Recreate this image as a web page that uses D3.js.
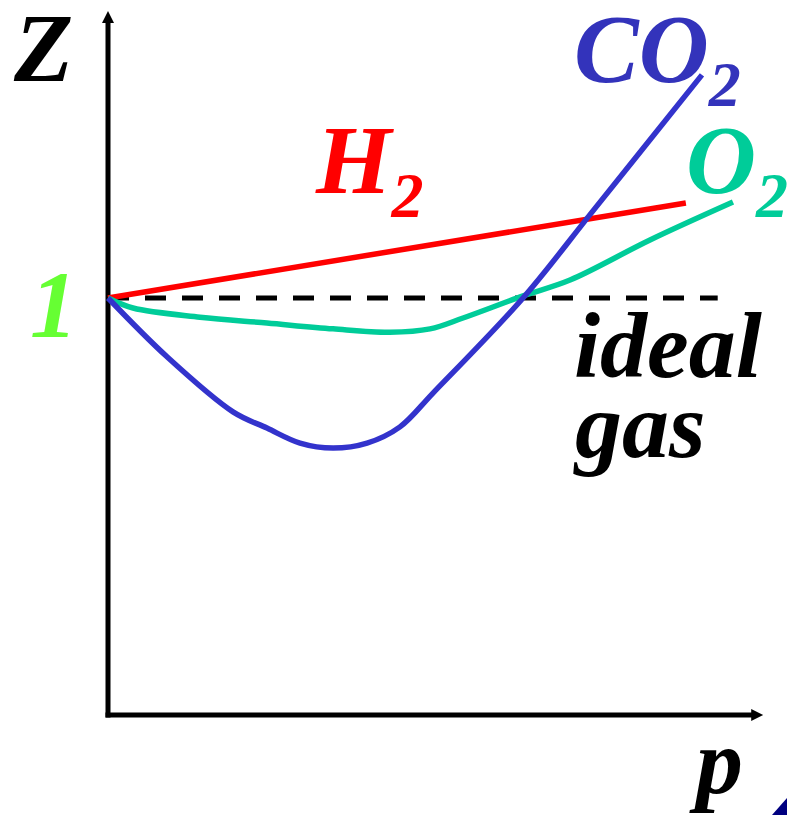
<!DOCTYPE html>
<html>
<head>
<meta charset="utf-8">
<script src="https://cdn.jsdelivr.net/npm/d3@7"></script>
<style>
    body { margin: 0; background: #fff; }
    #chart { width: 787px; height: 815px; }
</style>
</head>
<body>
<div id="chart"></div>
<script>

// compressibility factor Z vs pressure p (arbitrary p units)
const idealP = [0, 9.38];
const idealZ = [1, 1];

const h2P = [0, 8.89];
const h2Z = [1, 1.228];

const o2P = [0, 0.385, 1.415, 2.446, 3.462, 4.338, 4.954, 5.462, 6.385, 7.108, 8.338, 9.615];
const o2Z = [1, 0.976, 0.954, 0.940, 0.926, 0.918, 0.926, 0.952, 1.005, 1.043, 1.139, 1.230];

const co2P = [0, 0.908, 1.923, 2.446, 2.954, 3.462, 3.985, 4.492, 5.0, 6.385, 7.446, 9.138];
const co2Z = [1, 0.859, 0.727, 0.688, 0.652, 0.640, 0.652, 0.691, 0.772, 1.000, 1.206, 1.535];

// axis extents
const pMax = 10.08;
const zMax = 1.688;

const FONT = "Liberation Serif";


class ZChart {

    constructor(parentElement) {
        this.parentElement = parentElement;
        this.series = [
            {name: "H2", p: h2P, z: h2Z, color: "#ff0000"},
            {name: "O2", p: o2P, z: o2Z, color: "#00cc99"},
            {name: "CO2", p: co2P, z: co2Z, color: "#3333cc"}
        ];
        this.initVis();
    }

    initVis() {
        let vis = this;

        vis.width = 787;
        vis.height = 815;

        vis.svg = d3.select("#" + vis.parentElement).append("svg")
            .attr("width", vis.width)
            .attr("height", vis.height);

        vis.x = d3.scaleLinear().domain([0, 10]).range([108, 758]);
        vis.y = d3.scaleLinear().domain([0, 1]).range([715, 298]);

        vis.line = d3.line()
            .x(d => vis.x(d[0]))
            .y(d => vis.y(d[1]))
            .curve(d3.curveCatmullRom.alpha(0.5));

        // axes with arrow heads
        let x0 = vis.x(0), y0 = vis.y(0);
        let xEnd = vis.x(pMax), yEnd = vis.y(zMax);

        vis.svg.append("line")
            .attr("x1", x0).attr("y1", y0 + 2.5)
            .attr("x2", x0).attr("y2", yEnd + 10)
            .attr("stroke", "#000").attr("stroke-width", 5);
        vis.svg.append("path")
            .attr("d", `M${x0},${yEnd} L${x0 + 6},${yEnd + 12} L${x0 - 6},${yEnd + 12} Z`)
            .attr("fill", "#000");

        vis.svg.append("line")
            .attr("x1", x0 - 2.5).attr("y1", y0)
            .attr("x2", xEnd - 10).attr("y2", y0)
            .attr("stroke", "#000").attr("stroke-width", 5);
        vis.svg.append("path")
            .attr("d", `M${xEnd},${y0} L${xEnd - 12},${y0 - 6} L${xEnd - 12},${y0 + 6} Z`)
            .attr("fill", "#000");

        // ideal gas reference
        vis.svg.append("path")
            .datum(d3.zip(idealP, idealZ))
            .attr("d", d3.line().x(d => vis.x(d[0])).y(d => vis.y(d[1])))
            .attr("fill", "none")
            .attr("stroke", "#000")
            .attr("stroke-width", 5)
            .attr("stroke-dasharray", "21,16");

        // labels
        vis.label(14, 81, 97, "#000", "Z");
        vis.label(30, 337, 95, "#66ff33", "1");
        vis.label(696, 793, 94, "#000", "p");
        vis.label(574, 377, 94, "#000", "ideal");
        vis.label(575, 457, 94, "#000", "gas");

        vis.addFormula("H", "2", 316, 193, "#ff0000");
        vis.addFormula("O", "2", 686, 193, "#00cc99");
        vis.addFormula("CO", "2", 574, 82, "#3333bb");

        // slide corner decoration
        vis.svg.append("path")
            .attr("d", "M772,815 L787,798 L787,815 Z")
            .attr("fill", "#000080");

        this.wrangleData();
    }

    label(x, y, size, color, txt) {
        return this.svg.append("text")
            .attr("x", x).attr("y", y)
            .attr("font-family", FONT)
            .attr("font-weight", "bold")
            .attr("font-style", "italic")
            .attr("font-size", size)
            .attr("fill", color)
            .text(txt);
    }

    addFormula(main, sub, x, y, color) {
        let vis = this;
        let t = vis.label(x, y, 97, color, "");
        t.append("tspan").text(main);
        t.append("tspan").attr("font-size", 64).attr("dy", 24).text(sub);
    }

    wrangleData() {
        let vis = this;
        vis.displayData = vis.series.map(s => ({
            name: s.name,
            color: s.color,
            values: d3.zip(s.p, s.z)
        }));
        vis.updateVis();
    }

    updateVis() {
        let vis = this;

        vis.svg.selectAll(".gas-line")
            .data(vis.displayData)
            .enter()
            .append("path")
            .attr("class", "gas-line")
            .attr("d", d => vis.line(d.values))
            .attr("fill", "none")
            .attr("stroke", d => d.color)
            .attr("stroke-width", 5.5);
    }
}

new ZChart("chart");
</script>
</body>
</html>
